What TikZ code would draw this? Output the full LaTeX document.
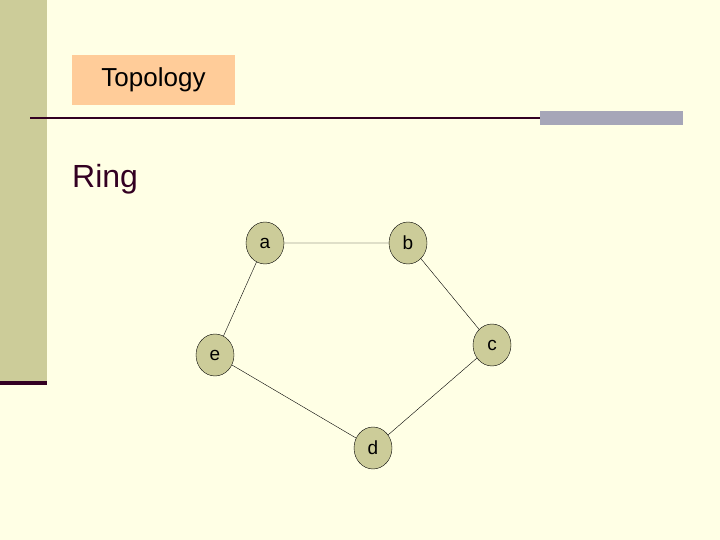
\documentclass[tikz,border=0pt]{standalone}
\usepackage{fontspec}
\setmainfont{Liberation Sans}
\usetikzlibrary{shapes.geometric}
\definecolor{bg}{HTML}{FFFFE5}
\definecolor{band}{HTML}{CCCC99}
\definecolor{dk}{HTML}{330022}
\definecolor{peach}{HTML}{FFCC99}
\definecolor{bar}{HTML}{A6A6B8}
\definecolor{nd}{HTML}{CCCC99}
\tikzset{vx/.style={ellipse,draw=black,fill=nd,minimum width=38pt,minimum height=42pt,inner sep=0pt,font=\fontsize{19}{19}\selectfont}}
\begin{document}
\begin{tikzpicture}[x=1pt,y=-1pt]
\fill[bg] (0,0) rectangle (720,540);
\useasboundingbox (0,0) rectangle (720,540);
\fill[band] (0,0) rectangle (47,382);
\fill[dk] (0,381) rectangle (47,385);
\node[fill=peach,minimum width=163pt,minimum height=50pt,inner sep=0pt,font=\fontsize{26}{26}\selectfont] (t) at (153.5,80) {Topology};
\draw[dk,line width=1.5pt] (30,118) -- (540,118);
\fill[bar] (540,111) rectangle (683,125);
\node[anchor=base west,inner sep=0pt,font=\fontsize{32}{32}\selectfont,text=dk] (r) at (72,188) {Ring};
\node[vx] (a) at (265,243) {a};
\node[vx] (b) at (408,243) {b};
\node[vx] (c) at (492,345) {c};
\node[vx] (e) at (215,355) {e};
\node[vx] (d) at (373,448) {d};
\draw (a)--(b) (b)--(c) (c)--(d) (d)--(e) (e)--(a);
\end{tikzpicture}
\end{document}
